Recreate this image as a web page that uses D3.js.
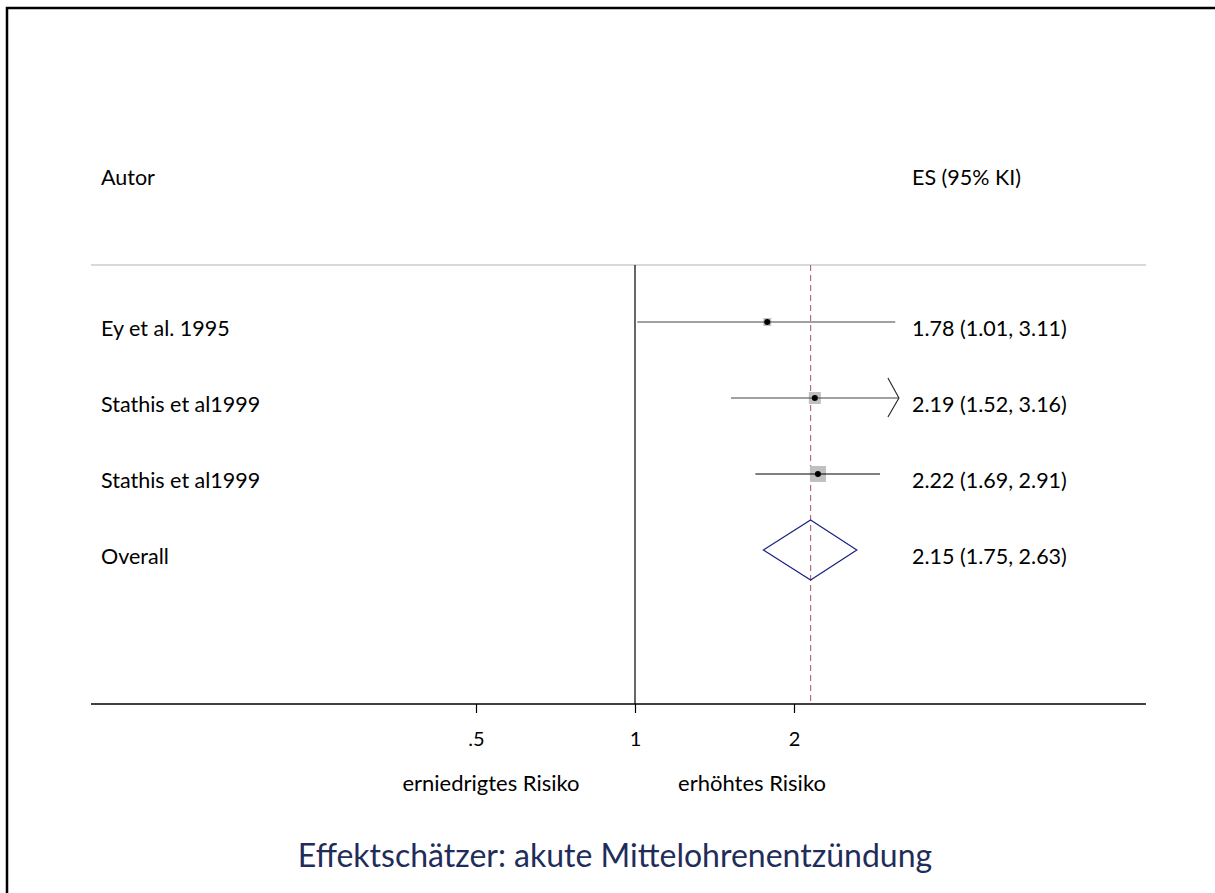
<!DOCTYPE html>
<html><head><meta charset="utf-8">
<script src="https://cdn.jsdelivr.net/npm/d3@7"></script>
<style>body{margin:0;background:#fff}svg{display:block}text{font-family:Lato,"Open Sans",sans-serif}</style>
</head><body>
<svg id="c" width="1215" height="893"></svg>
<script>
const studies = ["Ey et al. 1995", "Stathis et al1999", "Stathis et al1999"];
const es = [1.78, 2.19, 2.22];
const lo = [1.01, 1.52, 1.69];
const hi = [3.11, 3.16, 2.91];
const weightSize = [8, 12, 16];
const arrowRight = [false, true, false];
const overall = {label: "Overall", es: 2.15, lo: 1.75, hi: 2.63};
const tickValues = [0.5, 1, 2];
const tickLabels = [".5", "1", "2"];
const rows = [...studies, "Overall"];

const FS = 21.5;
const svg = d3.select("#c");
svg.append("rect").attr("x",7).attr("y",8).attr("width",1240).attr("height",920)
  .attr("fill","none").attr("stroke","#000").attr("stroke-width",2.5);

const x = d3.scaleLog().base(2).domain([0.5, 2]).range([476, 794]);
const y = d3.scalePoint().domain(d3.range(rows.length)).range([322, 550]);
const axisY = 704, topY = 265;

// header
svg.append("text").attr("x",101).attr("y",185).attr("font-size",FS).text("Autor");
svg.append("text").attr("x",912).attr("y",185).attr("font-size",FS).text("ES (95% KI)");
svg.append("line").attr("x1",91).attr("x2",1146).attr("y1",topY).attr("y2",topY)
  .attr("stroke","#d9d9d9").attr("stroke-width",2);

// null line
svg.append("line").attr("x1",x(1)).attr("x2",x(1)).attr("y1",topY).attr("y2",axisY)
  .attr("stroke","#000").attr("stroke-width",1.2);
// overall dashed line
svg.append("line").attr("x1",x(overall.es)).attr("x2",x(overall.es)).attr("y1",topY).attr("y2",axisY)
  .attr("stroke","#b0707e").attr("stroke-width",1.2).attr("stroke-dasharray","6,4");

// axis
const axis = d3.axisBottom(x).tickValues(tickValues).tickFormat((d,i)=>tickLabels[i]).tickSize(9).tickPadding(19);
const gA = svg.append("g").attr("transform",`translate(0,${axisY})`).call(axis);
gA.select(".domain").remove();
gA.selectAll(".tick line").attr("stroke","#000").attr("stroke-width",1.2);
gA.selectAll(".tick text").attr("font-size",20).attr("fill","#000").attr("font-family","Lato");
svg.append("line").attr("x1",91).attr("x2",1146).attr("y1",axisY).attr("y2",axisY)
  .attr("stroke","#000").attr("stroke-width",1.5);

// study rows
studies.forEach((s,i)=>{
  const yy = y(i);
  svg.append("text").attr("x",101).attr("y",yy+14).attr("font-size",FS).text(s);
  svg.append("rect").attr("x",x(es[i])-weightSize[i]/2).attr("y",yy-weightSize[i]/2)
    .attr("width",weightSize[i]).attr("height",weightSize[i]).attr("fill","#c0c0c0");
  svg.append("line").attr("x1",x(lo[i])).attr("x2",x(hi[i])).attr("y1",yy).attr("y2",yy)
    .attr("stroke", i===2 ? "#000" : "#444").attr("stroke-width",1.2);
  if (arrowRight[i]) {
    const xe = x(hi[i]);
    svg.append("path").attr("d",`M${xe-11},${yy-20}L${xe},${yy}L${xe-11},${yy+19}`)
      .attr("fill","none").attr("stroke","#222").attr("stroke-width",1.1);
  }
  svg.append("circle").attr("cx",x(es[i])).attr("cy",yy).attr("r",3).attr("fill","#000");
  svg.append("text").attr("x",912).attr("y",yy+14).attr("font-size",FS)
    .text(`${es[i].toFixed(2)} (${lo[i].toFixed(2)}, ${hi[i].toFixed(2)})`);
});

// overall
const yo = y(3);
svg.append("text").attr("x",101).attr("y",yo+14).attr("font-size",FS).text(overall.label);
svg.append("path")
  .attr("d",`M${x(overall.lo)},${yo}L${x(overall.es)},${yo-30}L${x(overall.hi)},${yo}L${x(overall.es)},${yo+30}Z`)
  .attr("fill","none").attr("stroke","#1a237e").attr("stroke-width",1.2);
svg.append("text").attr("x",912).attr("y",yo+14).attr("font-size",FS)
  .text(`${overall.es.toFixed(2)} (${overall.lo.toFixed(2)}, ${overall.hi.toFixed(2)})`);

// axis annotations
svg.append("text").attr("x",491).attr("y",791).attr("font-size",22).attr("text-anchor","middle").text("erniedrigtes Risiko");
svg.append("text").attr("x",752).attr("y",791).attr("font-size",22).attr("text-anchor","middle").text("erhöhtes Risiko");
svg.append("text").attr("x",615).attr("y",867).attr("font-size",32).attr("text-anchor","middle")
  .attr("fill","#1f2d5a").text("Effektschätzer: akute Mittelohrenentzündung");
</script>
</body></html>
